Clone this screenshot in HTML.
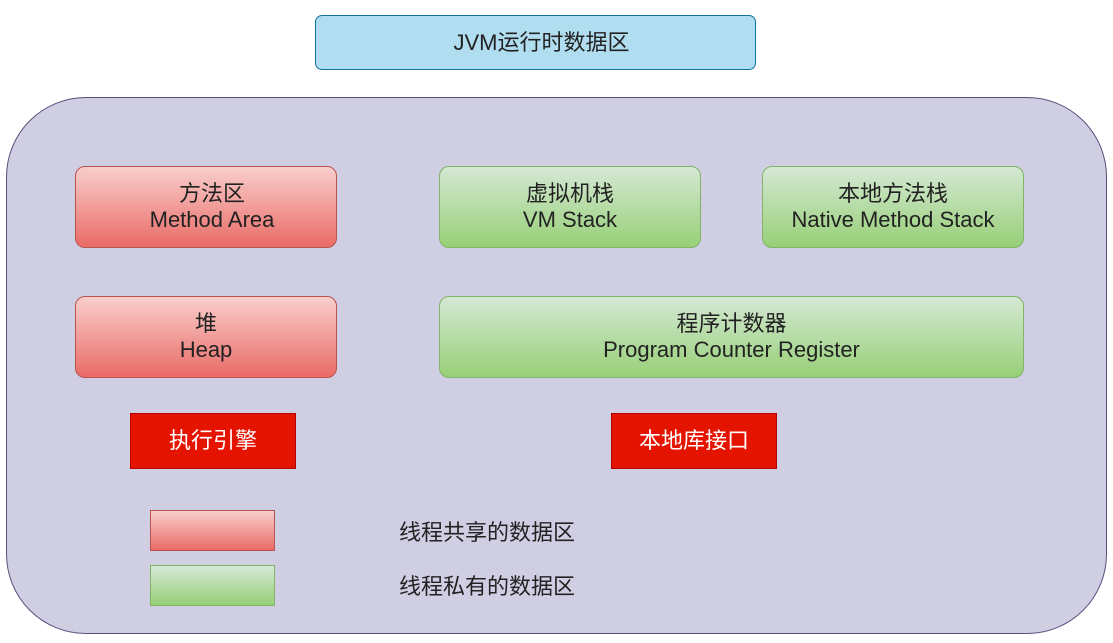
<!DOCTYPE html>
<html><head><meta charset="utf-8"><style>
body{margin:0;width:1113px;height:643px;background:#fff;position:relative;overflow:hidden;font-family:"Liberation Sans","Noto Sans CJK SC",sans-serif;color:#222}
.b{position:absolute;box-sizing:border-box;display:flex;align-items:center;justify-content:center;text-align:center;font-size:22px;line-height:26px}
.r{background:linear-gradient(#f8cecc,#ea6b66);border:1px solid #b85450;border-radius:10px}
.g{background:linear-gradient(#d5e8d4,#97d077);border:1px solid #82b366;border-radius:10px}
.red{background:#e51400;border:1px solid #b20000;color:#fff}
.t{position:absolute;font-size:22px}
</style></head><body>
<div class="b" style="left:315px;top:15px;width:441px;height:55px;background:#b1ddf0;border:1px solid #10739e;border-radius:7px;padding-left:12px">JVM运行时数据区</div>
<div style="position:absolute;left:6px;top:97px;width:1101px;height:537px;box-sizing:border-box;background:#d0cee2;border:1px solid #56517e;border-radius:80px"></div>
<div class="b r" style="left:75px;top:166px;width:262px;height:82px;padding-left:12px">方法区<br>Method Area</div>
<div class="b r" style="left:75px;top:296px;width:262px;height:82px">堆<br>Heap</div>
<div class="b g" style="left:439px;top:166px;width:262px;height:82px">虚拟机栈<br>VM Stack</div>
<div class="b g" style="left:762px;top:166px;width:262px;height:82px">本地方法栈<br>Native Method Stack</div>
<div class="b g" style="left:439px;top:296px;width:585px;height:82px">程序计数器<br>Program Counter Register</div>
<div class="b red" style="left:130px;top:413px;width:166px;height:56px">执行引擎</div>
<div class="b red" style="left:611px;top:413px;width:166px;height:56px">本地库接口</div>
<div class="b r" style="left:150px;top:510px;width:125px;height:41px;border-radius:0"></div>
<div class="b g" style="left:150px;top:565px;width:125px;height:41px;border-radius:0"></div>
<div class="t" style="left:399px;top:515px">线程共享的数据区</div>
<div class="t" style="left:399px;top:569px">线程私有的数据区</div>
</body></html>
